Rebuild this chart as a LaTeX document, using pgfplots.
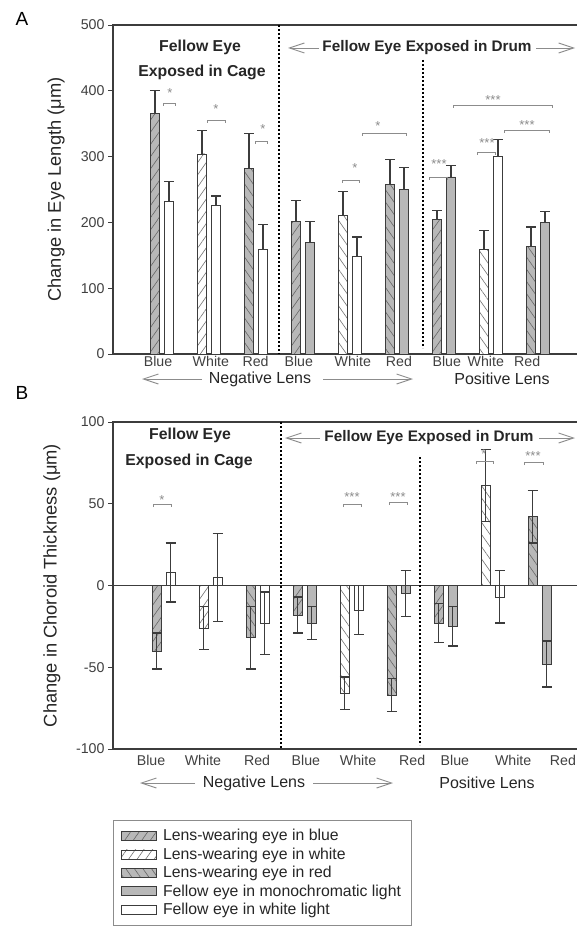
\documentclass[border=0pt]{standalone}
\usepackage{fontspec}
\setmainfont{Liberation Sans}
\usepackage{pgfplots}
\pgfplotsset{compat=1.18}
\usetikzlibrary{patterns.meta,arrows.meta}
\definecolor{barg}{HTML}{B8B8B8}
\definecolor{ink}{HTML}{3C3C3C}
\definecolor{ann}{HTML}{8C8C8C}

% bars sit at group index -/+ 0.149 (7pt of a 47pt group pitch)
\pgfplotsset{
  chartax/.style={scale only axis, width=470pt, anchor=south west,
    axis line style={ink, line width=1.2pt},
    tick align=outside, major tick length=5pt,
    ytick style={ink, line width=1pt},
    xtick style={draw=none},
    tick label style={font=\fontsize{14.2}{17}\selectfont, text=black!75},
    /pgf/number format/assume math mode=true,
    ylabel style={font=\fontsize{18.3}{22}\selectfont, text=black!85, anchor=center},
  },
  lgd/.style={legend image code/.code={\draw[##1, line width=0.6pt] (0pt,-4.5pt) rectangle (35pt,4.5pt);}},
  barbase/.style={ybar, bar width=9pt, bar shift=0pt, draw=ink, line width=0.7pt, lgd},
  lensB/.style={barbase, fill=barg,
    postaction={pattern={Lines[angle=55,distance=7pt,line width=0.6pt]}, pattern color=black!60}},
  lensWf/.style={barbase, fill=white,
    postaction={pattern={Lines[angle=55,distance=7pt,line width=0.6pt]}, pattern color=black!55}},
  lensWb/.style={barbase, fill=white,
    postaction={pattern={Lines[angle=125,distance=7pt,line width=0.6pt]}, pattern color=black!55}},
  lensR/.style={barbase, fill=barg,
    postaction={pattern={Lines[angle=125,distance=7pt,line width=0.6pt]}, pattern color=black!60}},
  felM/.style={barbase, fill=barg},
  felW/.style={barbase, fill=white},
  errA/.style={error bars/.cd, y dir=plus, y explicit,
    error bar style={ink, line width=1.3pt},
    error mark options={rotate=90, ink, line width=1.3pt, mark size=5pt}},
  errB/.style={error bars/.cd, y dir=both, y explicit,
    error bar style={ink, line width=1.3pt},
    error mark options={rotate=90, ink, line width=1.3pt, mark size=5pt}},
}

\begin{document}
\begin{tikzpicture}
\path[use as bounding box] (0,0) rectangle (576pt,-933pt);

%% ---------------- Panel A: eye length
\begin{axis}[chartax, at={(113pt,-354pt)}, height=329pt,
  xmin=-1.04255, xmax=8.95745, ymin=0, ymax=500,
  ytick={0,100,...,500},
  xtick={-0.085,1.04,1.99,2.91,4.06,5.04,6.06,6.89,7.77},
  xticklabels={Blue,White,Red,Blue,White,Red,Blue,White,Red},
  xticklabel style={yshift=6.5pt},
  ylabel={Change in Eye Length (μm)},
  ylabel style={at={(axis description cs:-0.121,0.5)}},
]
\addplot[lensB, errA] coordinates {(-0.149,366) +- (0,34) (2.851,202) +- (0,31) (5.851,204) +- (0,14)};
\addplot[lensWf, errA] coordinates {(0.851,304) +- (0,36)};
\addplot[lensWb, errA] coordinates {(3.851,210) +- (0,37) (6.851,159) +- (0,29)};
\addplot[lensR, errA] coordinates {(1.851,282) +- (0,53) (4.851,258) +- (0,38) (7.851,163) +- (0,30)};
\addplot[felM, errA] coordinates {(3.149,169) +- (0,32) (5.149,250) +- (0,33) (6.149,269) +- (0,18) (8.149,200) +- (0,17)};
\addplot[felW, errA] coordinates {(0.149,232) +- (0,30) (1.149,226) +- (0,14) (2.149,159) +- (0,38) (4.149,149) +- (0,29) (7.149,301) +- (0,25)};
\end{axis}

%% ---------------- Panel B: choroid thickness
\begin{axis}[chartax, at={(113pt,-749pt)}, height=327pt,
  xmin=-1.0745, xmax=8.9255, ymin=-100, ymax=100,
  ytick={-100,-50,0,50,100},
  xtick={-0.266,0.84,1.99,3.03,4.14,5.29,6.20,7.44,8.50},
  xticklabels={Blue,White,Red,Blue,White,Red,Blue,White,Red},
  xticklabel style={yshift=2.5pt},
  ylabel={Change in Choroid Thickness (μm)},
  ylabel style={at={(axis description cs:-0.130,0.5)}},
  legend style={at={(axis description cs:0,-0.2171)}, anchor=north west,
    draw=black!45, line width=0.8pt, fill=white,
    font=\fontsize{15.8}{18}\selectfont, text=black!85,
    inner xsep=8pt, inner ysep=7pt, row sep=1.5pt,
    /tikz/every odd column/.append style={column sep=4pt}},
  legend cell align=left,
]
\addplot[lensB, errB] coordinates {(-0.149,-40) +- (0,11) (2.851,-18) +- (0,11) (5.851,-23) +- (0,12)};
\addlegendentry{Lens-wearing eye in blue}
\addplot[lensWf, errB] coordinates {(0.851,-26) +- (0,13)};
\addlegendentry{Lens-wearing eye in white}
\addplot[forget plot, lensWb, errB] coordinates {(3.851,-66) +- (0,10) (6.851,61) +- (0,22)};
\addplot[lensR, errB] coordinates {(1.851,-32) +- (0,19) (4.851,-67) +- (0,10) (7.851,42) +- (0,16)};
\addlegendentry{Lens-wearing eye in red}
\addplot[felM, errB] coordinates {(3.149,-23) +- (0,10) (5.149,-5) +- (0,14) (6.149,-25) +- (0,12) (8.149,-48) +- (0,14)};
\addlegendentry{Fellow eye in monochromatic light}
\addplot[felW, errB] coordinates {(0.149,8) +- (0,18) (1.149,5) +- (0,27) (2.149,-23) +- (0,19) (4.149,-15) +- (0,15) (7.149,-7) +- (0,16)};
\addlegendentry{Fellow eye in white light}
\draw[ink, line width=1.2pt] (rel axis cs:0,0.5) -- (rel axis cs:1,0.5);
\end{axis}

%% ---------------- annotations (pixel-like coordinates, y downward)
\begin{scope}[x=1pt, y=-1pt]
\tikzset{
  hd/.style={font=\bfseries\fontsize{15.8}{19}\selectfont, text=black!85},
  hdd/.style={font=\bfseries\fontsize{15.3}{19}\selectfont, text=black!85},
  lens/.style={font=\fontsize{16}{19}\selectfont, text=black!85},
  arr/.style={draw=ann, line width=0.9pt, -{Straight Barb[length=15pt,width=10pt,line width=0.9pt]}},
  dots/.style={line width=2pt, dash pattern=on 2pt off 2pt},
  br/.style={draw=ann, line width=0.9pt},
  st/.style={font=\fontsize{13}{15}\selectfont, text=ann, anchor=base},
}
\node[font=\fontsize{19}{22}\selectfont] at (22,19) {A};
\node[font=\fontsize{19}{22}\selectfont] at (22,393) {B};

% panel A
\node[hd] at (200,47) {Fellow Eye};
\node[hd] at (202,72) {Exposed in Cage};
\draw[arr] (319,48) -- (288,48);
\node[hdd] at (427,48) {Fellow Eye Exposed in Drum};
\draw[arr] (536,48) -- (575,48);
\draw[dots] (279,25) -- (279,354);
\draw[dots] (423,60) -- (423,348);
\draw[arr] (202,379) -- (142,379);
\node[lens] at (260,379) {Negative Lens};
\draw[arr] (323,379) -- (413,379);
\node[lens] at (502,379) {Positive Lens};
\foreach \xa/\xb/\yy/\xs/\ys/\tx in {163/175/103/170/92/*, 207/225/120/216/108/*, 255/267/141/263/128/*,
  342/359/180/355/167/*, 362/406/133/378/125/*, 429/447/177/439/163/***, 477/495/152/487/142/***,
  453/552/105/493/99/***, 504/549/130/527/124/***}{
  \draw[br] (\xa,\yy+3) -- (\xa,\yy) -- (\xb,\yy) -- (\xb,\yy+3);
  \node[st] at (\xs,\ys+6) {\tx};
}

% panel B
\node[hd] at (190,435) {Fellow Eye};
\node[hd] at (189,461) {Exposed in Cage};
\draw[arr] (320,438) -- (285,438);
\node[hdd] at (429,438) {Fellow Eye Exposed in Drum};
\draw[arr] (539,438) -- (575,438);
\draw[dots] (281,422) -- (281,749);
\draw[dots] (420,457) -- (420,745);
\draw[arr] (195,783) -- (140,783);
\node[lens] at (254,783) {Negative Lens};
\draw[arr] (313,783) -- (393,783);
\node[lens] at (487,783) {Positive Lens};
\foreach \xa/\xb/\yy/\xs/\ys/\tx in {153/171/504/162/498/*, 343/361/504/352/495/***,
  389/407/502/398/495/***, 476/493/461/484/452/*, 524/543/462/533/454/***}{
  \draw[br] (\xa,\yy+3) -- (\xa,\yy) -- (\xb,\yy) -- (\xb,\yy+3);
  \node[st] at (\xs,\ys+6) {\tx};
}
\end{scope}
\end{tikzpicture}
\end{document}
